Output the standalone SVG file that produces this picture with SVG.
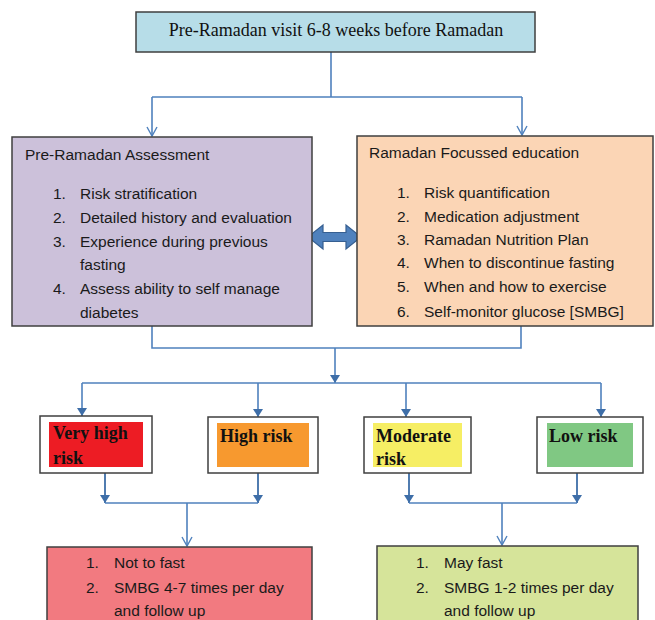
<svg xmlns="http://www.w3.org/2000/svg" width="655" height="620" viewBox="0 0 655 620">
<defs>
<style>
.box{stroke:#3f3f3f;stroke-width:1.5}
.serif{font-family:"Liberation Serif","Times New Roman",serif;fill:#111}
.sans{font-family:"Liberation Sans",Arial,sans-serif;font-size:15.5px;fill:#1a1a1a}
.risk{font-family:"Liberation Serif","Times New Roman",serif;font-size:18px;font-weight:bold;fill:#111}
.ln{fill:none;stroke:#4f81bd;stroke-width:1.6}
.ln2{fill:none;stroke:#3e6ea8;stroke-width:1.8}
</style>
<marker id="open" viewBox="-6 -10 12 12" markerWidth="12" markerHeight="12" refX="0" refY="0" orient="auto-start-reverse" markerUnits="userSpaceOnUse">
<path d="M-9,-5 L0,0 L-9,5" fill="none" stroke="#4f81bd" stroke-width="1.4" transform="rotate(0)"/>
</marker>
<marker id="openv" viewBox="-10 -6 12 12" markerWidth="12" markerHeight="12" refX="0" refY="0" orient="auto" markerUnits="userSpaceOnUse">
<path d="M-9,-5 L0,0 L-9,5" fill="none" stroke="#4f81bd" stroke-width="1.4"/>
</marker>
<marker id="solid" viewBox="-10 -6 12 12" markerWidth="12" markerHeight="12" refX="0" refY="0" orient="auto" markerUnits="userSpaceOnUse">
<path d="M-8,-5 L0,0 L-8,5 Z" fill="#3e6ea8"/>
</marker>
</defs>
<rect width="655" height="620" fill="#fff"/>

<g id="connectors">
<path class="ln" d="M331,52 V97 M152,97 H522"/>
<path class="ln" d="M152,97 V136" marker-end="url(#openv)"/>
<path class="ln" d="M522,97 V135" marker-end="url(#openv)"/>
<path class="ln" d="M152,326 V348 H521 V326"/>
<path class="ln" d="M335,348 V383" marker-end="url(#solid)"/>
<path class="ln" d="M82,383 H601"/>
<path class="ln" d="M82,383 V416" marker-end="url(#solid)"/>
<path class="ln" d="M258,383 V417" marker-end="url(#solid)"/>
<path class="ln" d="M406,383 V417" marker-end="url(#solid)"/>
<path class="ln" d="M601,383 V417" marker-end="url(#solid)"/>
<path class="ln2" d="M105,473 V503" marker-end="url(#solid)"/>
<path class="ln2" d="M258,473 V503" marker-end="url(#solid)"/>
<path class="ln" d="M105,503 H258"/>
<path class="ln" d="M187,503 V546" marker-end="url(#openv)"/>
<path class="ln2" d="M409,473 V503" marker-end="url(#solid)"/>
<path class="ln2" d="M577,473 V503" marker-end="url(#solid)"/>
<path class="ln" d="M409,503 H577"/>
<path class="ln" d="M502,503 V545" marker-end="url(#openv)"/>
<path d="M308,237 L323,225 V232.5 H346 V225 L361,237 L346,249 V241.5 H323 V249 Z" fill="#4f81bd" stroke="#365f91" stroke-width="1.2"/>
</g>

<g id="pre-visit">
<rect class="box" x="136" y="12" width="399" height="40" fill="#b7dde8"/>
<text class="serif" x="336" y="36" font-size="18" text-anchor="middle">Pre-Ramadan visit 6-8 weeks before Ramadan</text>
</g>

<g id="assessment">
<rect class="box" x="12" y="137" width="300" height="189" fill="#ccc1da"/>
<text class="sans" x="25" y="160">Pre-Ramadan Assessment</text>
<text class="sans" x="53" y="199">1.</text><text class="sans" x="80" y="199">Risk stratification</text>
<text class="sans" x="53" y="223">2.</text><text class="sans" x="80" y="223">Detailed history and evaluation</text>
<text class="sans" x="53" y="247">3.</text><text class="sans" x="80" y="247">Experience during previous</text>
<text class="sans" x="80" y="270">fasting</text>
<text class="sans" x="53" y="294">4.</text><text class="sans" x="80" y="294">Assess ability to self manage</text>
<text class="sans" x="80" y="318">diabetes</text>
</g>

<g id="education">
<rect class="box" x="357" y="136" width="296" height="190" fill="#fbd5b5"/>
<text class="sans" x="369" y="158">Ramadan Focussed education</text>
<text class="sans" x="397" y="198">1.</text><text class="sans" x="424" y="198">Risk quantification</text>
<text class="sans" x="397" y="222">2.</text><text class="sans" x="424" y="222">Medication adjustment</text>
<text class="sans" x="397" y="245">3.</text><text class="sans" x="424" y="245">Ramadan Nutrition Plan</text>
<text class="sans" x="397" y="268">4.</text><text class="sans" x="424" y="268">When to discontinue fasting</text>
<text class="sans" x="397" y="292">5.</text><text class="sans" x="424" y="292">When and how to exercise</text>
<text class="sans" x="397" y="317">6.</text><text class="sans" x="424" y="317">Self-monitor glucose [SMBG]</text>
</g>

<g id="very-high-risk">
<rect class="box" x="40" y="416" width="112" height="57" fill="#fff"/>
<rect x="49" y="422" width="94" height="45" fill="#ed1c24"/>
<text class="risk" x="53" y="439">Very high</text>
<text class="risk" x="53" y="464">risk</text>
</g>

<g id="high-risk">
<rect class="box" x="208" y="417" width="110" height="56" fill="#fff"/>
<rect x="217" y="423" width="92" height="44" fill="#f7992f"/>
<text class="risk" x="220" y="442">High risk</text>
</g>

<g id="moderate-risk">
<rect class="box" x="364" y="417" width="107" height="56" fill="#fff"/>
<rect x="373" y="423" width="89" height="44" fill="#f6ee64"/>
<text class="risk" x="376" y="442">Moderate</text>
<text class="risk" x="376" y="465">risk</text>
</g>

<g id="low-risk">
<rect class="box" x="537" y="417" width="106" height="56" fill="#fff"/>
<rect x="547" y="423" width="86" height="44" fill="#80c883"/>
<text class="risk" x="549" y="442">Low risk</text>
</g>

<g id="not-fast">
<rect class="box" x="47" y="547" width="265" height="80" fill="#f27a80"/>
<text class="sans" x="86" y="568" font-size="15">1.</text><text class="sans" x="114" y="568" font-size="15">Not to fast</text>
<text class="sans" x="86" y="593" font-size="15">2.</text><text class="sans" x="114" y="593" font-size="15">SMBG 4-7 times per day</text>
<text class="sans" x="114" y="616" font-size="15">and follow up</text>
</g>

<g id="may-fast">
<rect class="box" x="377" y="546" width="261" height="80" fill="#d6e49a"/>
<text class="sans" x="416" y="568" font-size="15">1.</text><text class="sans" x="444" y="568" font-size="15">May fast</text>
<text class="sans" x="416" y="593" font-size="15">2.</text><text class="sans" x="444" y="593" font-size="15">SMBG 1-2 times per day</text>
<text class="sans" x="444" y="616" font-size="15">and follow up</text>
</g>
</svg>
